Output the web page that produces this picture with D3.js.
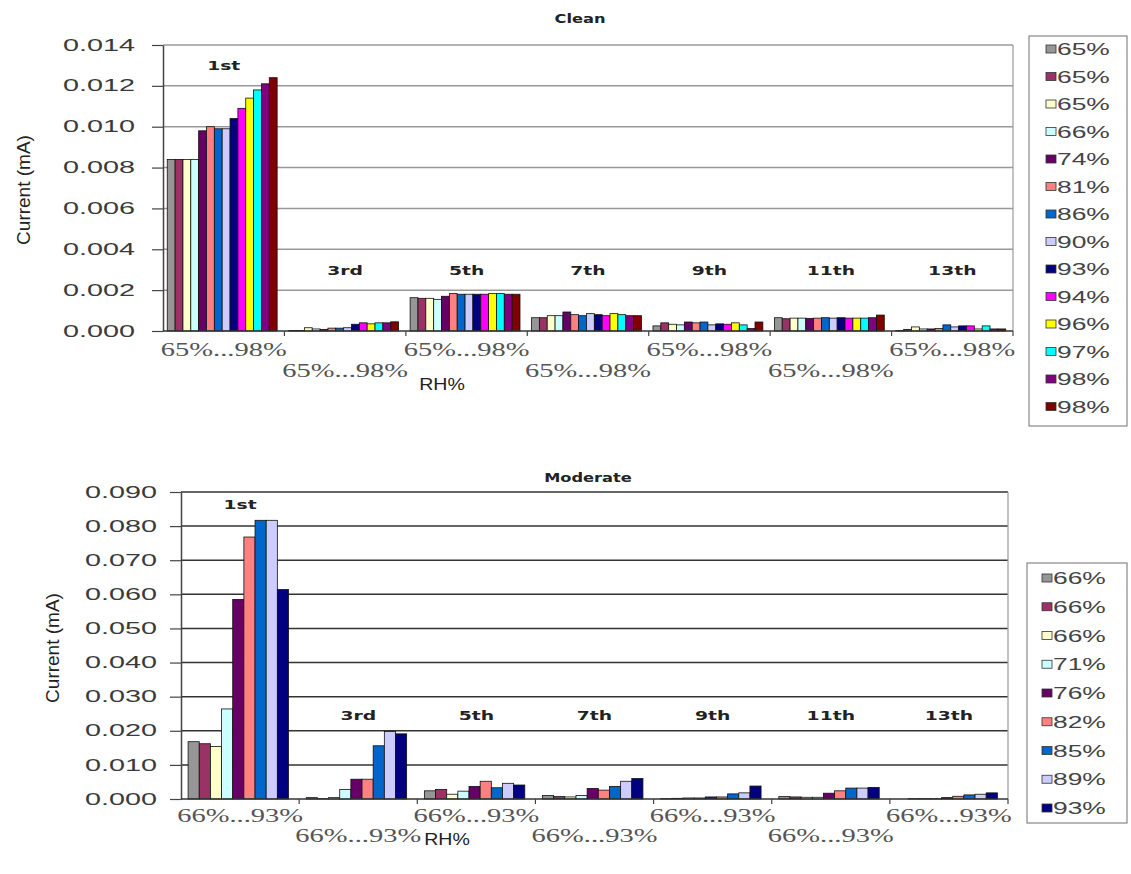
<!DOCTYPE html>
<html>
<head>
<meta charset="utf-8">
<script src="https://cdn.jsdelivr.net/npm/d3@7"></script>
<style>
body { margin: 0; background: #fff; }
svg { display: block; }
</style>
</head>
<body>
<svg id="chart"></svg>
<script>
// harmonic groups along the x axis
let harmonics = ["1st", "3rd", "5th", "7th", "9th", "11th", "13th"];

// Clean: 14 RH readings, one row of currents (mA) per harmonic
let cleanRH = ["65%", "65%", "65%", "66%", "74%", "81%", "86%", "90%", "93%", "94%", "96%", "97%", "98%", "98%"];
let cleanCurrent = [
    [0.0084, 0.0084, 0.0084, 0.0084, 0.0098, 0.0100, 0.0099, 0.0099, 0.0104, 0.0109, 0.0114, 0.0118, 0.0121, 0.0124],
    [0.00002, 0.00003, 0.00016, 0.0001, 0.00008, 0.00014, 0.00014, 0.00016, 0.00033, 0.0004, 0.00035, 0.0004, 0.0004, 0.00045],
    [0.00163, 0.0016, 0.0016, 0.00155, 0.0017, 0.00183, 0.0018, 0.0018, 0.0018, 0.0018, 0.00183, 0.00183, 0.0018, 0.0018],
    [0.00065, 0.00065, 0.00075, 0.00075, 0.00093, 0.0008, 0.00075, 0.00085, 0.0008, 0.00075, 0.00085, 0.0008, 0.00075, 0.00075],
    [0.00025, 0.0004, 0.00033, 0.0003, 0.00044, 0.0004, 0.00044, 0.0003, 0.00035, 0.00033, 0.0004, 0.0003, 0.00012, 0.00044],
    [0.00065, 0.0006, 0.00063, 0.00063, 0.00062, 0.00063, 0.00065, 0.00063, 0.00065, 0.00063, 0.00063, 0.00063, 0.00065, 0.00078],
    [0.00003, 0.00008, 0.0002, 0.0001, 0.0001, 0.00012, 0.0003, 0.0002, 0.00025, 0.00025, 0.0001, 0.00025, 0.0001, 0.0001]
];
let cleanTicks = [0, 0.002, 0.004, 0.006, 0.008, 0.010, 0.012, 0.014];
let cleanTickLabel = "65%...98%";

// Moderate: 9 RH readings
let moderateRH = ["66%", "66%", "66%", "71%", "76%", "82%", "85%", "89%", "93%"];
let moderateCurrent = [
    [0.0168, 0.0162, 0.0154, 0.0264, 0.0585, 0.0768, 0.0817, 0.0817, 0.0614],
    [0.0004, 0.0001, 0.0004, 0.0028, 0.0058, 0.0058, 0.0156, 0.0198, 0.0191],
    [0.0024, 0.0028, 0.0014, 0.0023, 0.0037, 0.0052, 0.0033, 0.0046, 0.0041],
    [0.0010, 0.0007, 0.0006, 0.0010, 0.0031, 0.0026, 0.0037, 0.0052, 0.0060],
    [0.0001, 0.0002, 0.0003, 0.0003, 0.0006, 0.0006, 0.0015, 0.0018, 0.0038],
    [0.0007, 0.0006, 0.0005, 0.0005, 0.0017, 0.0024, 0.0032, 0.0032, 0.0034],
    [0.0000, 0.0001, 0.0001, 0.0001, 0.0004, 0.0008, 0.0012, 0.0014, 0.0018]
];
let moderateTicks = [0, 0.01, 0.02, 0.03, 0.04, 0.05, 0.06, 0.07, 0.08, 0.09];
let moderateTickLabel = "66%...93%";

let seriesColors = ["#969696", "#993366", "#ffffcc", "#ccffff", "#660066", "#ff8080", "#0066cc",
    "#ccccff", "#000080", "#ff00ff", "#ffff00", "#00ffff", "#800080", "#800000"];

let svg = d3.select("#chart")
    .attr("width", 1131)
    .attr("height", 874);
svg.append("rect")
    .attr("width", 1131)
    .attr("height", 874)
    .attr("fill", "#fff");

// the source image is stretched sideways, so widen the text the same way
function stretch(sel, k) {
    sel.each(function () {
        let t = d3.select(this);
        let x = +t.attr("x") || 0;
        let y = +t.attr("y") || 0;
        t.attr("x", 0).attr("y", 0)
            .attr("transform", "translate(" + x + "," + y + ") scale(" + k + ",1)");
    });
}

function drawChart(cfg) {
    let g = svg.append("g");

    let x0 = d3.scaleBand()
        .domain(harmonics)
        .range([cfg.left, cfg.right])
        .padding(0);
    let bw = x0.bandwidth();
    let x1 = d3.scaleBand()
        .domain(d3.range(cfg.series.length))
        .range([bw * cfg.inset[0], bw * (1 - cfg.inset[1])])
        .padding(0);
    let y = d3.scaleLinear()
        .domain([0, d3.max(cfg.ticks)])
        .range([cfg.bottom, cfg.top]);

    // gridlines
    g.append("g").selectAll("line")
        .data(cfg.ticks.slice(1))
        .enter()
        .append("line")
        .attr("x1", cfg.left).attr("x2", cfg.right)
        .attr("y1", d => y(d)).attr("y2", d => y(d))
        .attr("stroke", cfg.gridColor)
        .attr("stroke-width", 1.5);
    g.append("line")
        .attr("x1", cfg.right).attr("x2", cfg.right)
        .attr("y1", cfg.top).attr("y2", cfg.bottom)
        .attr("stroke", "#9a9a9a")
        .attr("stroke-width", 1.2);

    // bars
    let groups = g.append("g").selectAll("g")
        .data(cfg.current)
        .enter()
        .append("g")
        .attr("transform", (d, i) => "translate(" + x0(harmonics[i]) + ",0)");
    groups.selectAll("rect")
        .data(d => d)
        .enter()
        .append("rect")
        .attr("x", (d, i) => x1(i))
        .attr("y", d => y(d))
        .attr("width", x1.bandwidth())
        .attr("height", d => y(0) - y(d))
        .attr("fill", (d, i) => seriesColors[i])
        .attr("stroke", "#111")
        .attr("stroke-width", 0.8);

    // harmonic labels
    g.append("g").selectAll("text")
        .data(harmonics)
        .enter()
        .append("text")
        .attr("x", d => x0(d) + bw / 2)
        .attr("y", (d, i) => i === 0 ? y(d3.max(cfg.current[0])) - cfg.firstGap : cfg.labelY)
        .attr("text-anchor", "middle")
        .style("font-family", "'DejaVu Sans', Verdana, sans-serif")
        .style("font-weight", "bold")
        .style("font-size", "12.5px")
        .attr("fill", "#222")
        .text(d => d)
        .call(stretch, 1.5);

    // y axis
    let yAxis = d3.axisLeft(y)
        .tickValues(cfg.ticks)
        .tickFormat(d3.format(".3f"))
        .tickSizeInner(11)
        .tickSizeOuter(0)
        .tickPadding(cfg.yPad);
    let ya = g.append("g")
        .attr("transform", "translate(" + cfg.left + ",0)")
        .call(yAxis);
    ya.select(".domain").attr("stroke", "#444").attr("stroke-width", 1.5);
    ya.selectAll(".tick line").attr("stroke", "#444").attr("stroke-width", 1.2);
    ya.selectAll("text")
        .style("font-family", "'Liberation Sans', Arial, sans-serif")
        .style("font-size", "16px")
        .attr("fill", "#3a3a3a")
        .call(stretch, 1.8);

    // x axis
    g.append("line")
        .attr("x1", cfg.left).attr("x2", cfg.right)
        .attr("y1", y(0)).attr("y2", y(0))
        .attr("stroke", "#333")
        .attr("stroke-width", 1.5);
    g.append("g").selectAll("line")
        .data(harmonics.slice(1).concat(["end"]))
        .enter()
        .append("line")
        .attr("x1", (d, i) => cfg.left + bw * (i + 1))
        .attr("x2", (d, i) => cfg.left + bw * (i + 1))
        .attr("y1", y(0)).attr("y2", y(0) + 5)
        .attr("stroke", "#444")
        .attr("stroke-width", 1.2);
    g.append("g").selectAll("text")
        .data(harmonics)
        .enter()
        .append("text")
        .attr("x", d => x0(d) + bw / 2)
        .attr("y", (d, i) => cfg.rowY[i % 2])
        .attr("text-anchor", "middle")
        .style("font-family", "'Liberation Serif', 'Times New Roman', serif")
        .style("font-size", "19px")
        .attr("fill", "#555")
        .text(cfg.tickLabel)
        .call(stretch, 1.5);

    // titles
    g.append("text")
        .attr("x", cfg.titleX).attr("y", cfg.titleY)
        .attr("text-anchor", "middle")
        .style("font-family", "'DejaVu Sans', Verdana, sans-serif")
        .style("font-weight", "bold")
        .style("font-size", "12.5px")
        .attr("fill", "#222")
        .text(cfg.title)
        .call(stretch, 1.3);
    g.append("text")
        .attr("x", cfg.rhX).attr("y", cfg.rhY)
        .attr("text-anchor", "middle")
        .style("font-family", "'Liberation Sans', Arial, sans-serif")
        .style("font-size", "17px")
        .attr("fill", "#222")
        .text("RH%")
        .call(stretch, 1.15);
    g.append("text")
        .attr("transform", "translate(" + cfg.yTitleX + "," + cfg.yTitleY + ") rotate(-90)")
        .attr("text-anchor", "middle")
        .style("font-family", "'Liberation Sans', Arial, sans-serif")
        .style("font-size", "19px")
        .attr("fill", "#222")
        .text("Current (mA)");

    // legend
    let lg = cfg.legend;
    g.append("rect")
        .attr("x", lg.x).attr("y", lg.y)
        .attr("width", lg.w).attr("height", lg.h)
        .attr("fill", "#fff")
        .attr("stroke", "#888")
        .attr("stroke-width", 1.2);
    let items = g.append("g").selectAll("g")
        .data(cfg.series)
        .enter()
        .append("g")
        .attr("transform", (d, i) => "translate(" + lg.sx + "," + (lg.y0 + i * lg.step) + ")");
    items.append("rect")
        .attr("x", 0).attr("y", -4)
        .attr("width", 10).attr("height", 8)
        .attr("fill", (d, i) => seriesColors[i])
        .attr("stroke", "#333")
        .attr("stroke-width", 0.8);
    items.append("text")
        .attr("x", 11).attr("y", 6)
        .style("font-family", "'Liberation Sans', Arial, sans-serif")
        .style("font-size", "16px")
        .attr("fill", "#444")
        .text(d => d)
        .call(stretch, 1.65);
}

drawChart({
    title: "Clean", titleX: 580, titleY: 23,
    left: 163, right: 1013, top: 45, bottom: 331,
    ticks: cleanTicks, current: cleanCurrent, series: cleanRH, tickLabel: cleanTickLabel,
    inset: [0.035, 0.06], gridColor: "#999", yPad: 17,
    firstGap: 8, labelY: 275,
    rowY: [356, 377], rhX: 442, rhY: 390,
    yTitleX: 30, yTitleY: 190,
    legend: {x: 1029, y: 36, w: 98, h: 390, sx: 1046, y0: 49, step: 27.5}
});

drawChart({
    title: "Moderate", titleX: 588, titleY: 482,
    left: 181, right: 1008, top: 492, bottom: 799,
    ticks: moderateTicks, current: moderateCurrent, series: moderateRH, tickLabel: moderateTickLabel,
    inset: [0.06, 0.09], gridColor: "#333", yPad: 13,
    firstGap: 11, labelY: 720,
    rowY: [822, 842], rhX: 447, rhY: 845,
    yTitleX: 59, yTitleY: 648,
    legend: {x: 1027, y: 563, w: 100, h: 260, sx: 1042, y0: 578, step: 28.75}
});
</script>
</body>
</html>
